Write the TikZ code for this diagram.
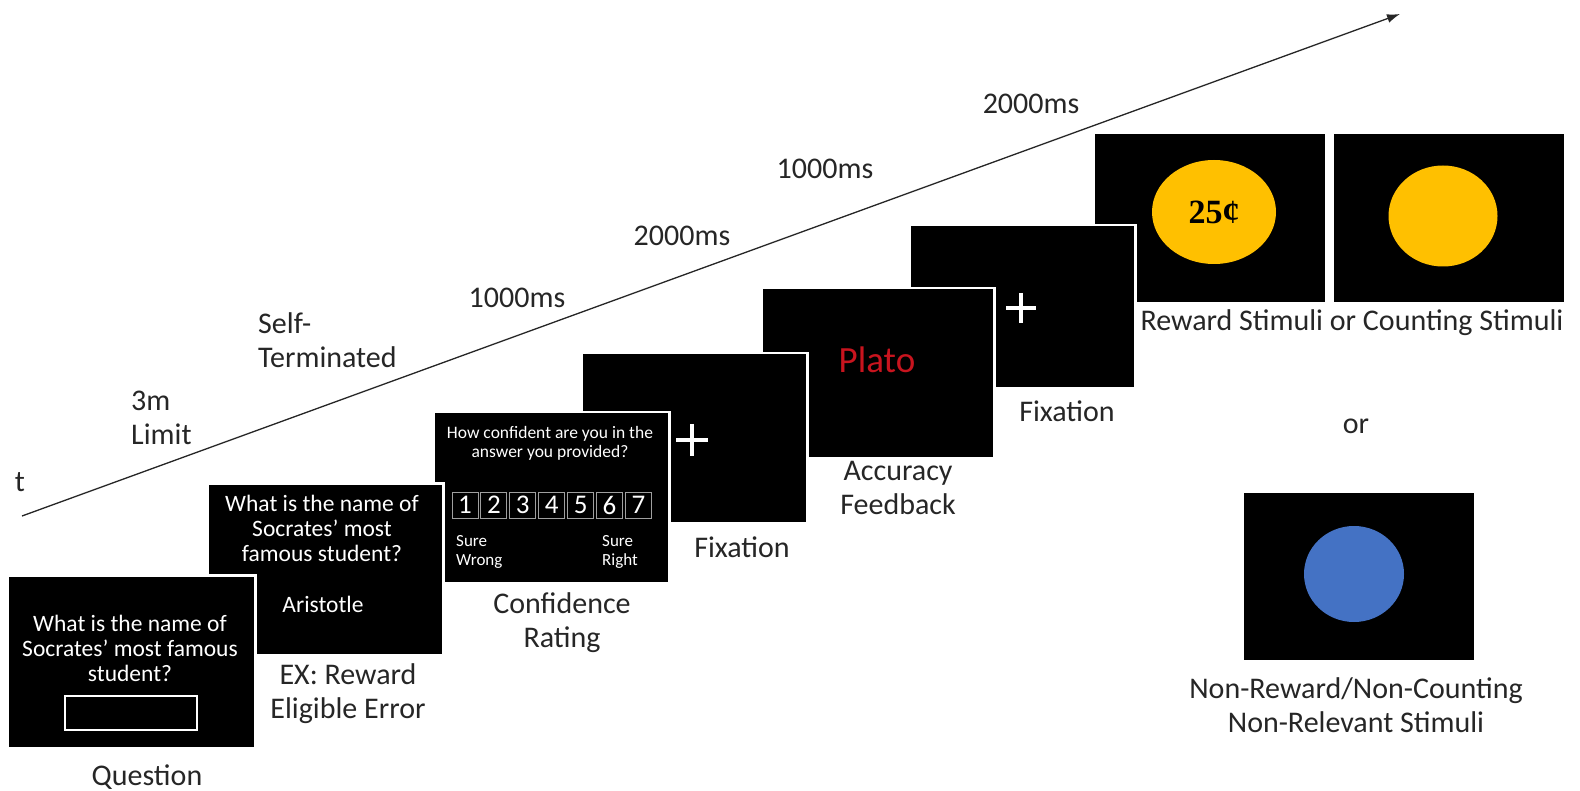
\documentclass[tikz,border=0pt]{standalone}
\usepackage{fontspec}
\setmainfont{Carlito}
\newfontfamily\coinfont{Liberation Serif}
\usetikzlibrary{arrows.meta,positioning,shapes.geometric}
\definecolor{coinGold}{HTML}{FFC000}
\definecolor{nonBlue}{HTML}{4472C4}
\definecolor{wrongRed}{HTML}{C8141E}
\definecolor{labelGrey}{HTML}{262626}
\tikzset{
  screen/.style={draw=white, line width=2.5pt, fill=black, anchor=north west,
    inner sep=0pt},
  lab/.style={text=labelGrey, align=center, inner sep=0pt,
    font=\fontsize{30}{34}\selectfont},
  scrtext/.style={text=white, align=center, inner sep=0pt,
    font=\fontsize{23.5}{25}\selectfont},
  smalltext/.style={text=white, align=left, inner sep=0pt, anchor=west,
    font=\fontsize{17}{19}\selectfont},
  numbox/.style={draw=gray!75, line width=1pt, text=white, inner sep=0pt,
    minimum width=26pt, minimum height=26pt, font=\fontsize{27}{27}\selectfont},
  crossline/.style={white, line width=4pt},
  disc/.style={ellipse, inner sep=0pt},
  axis/.style={-{Latex[length=13pt, width=9pt]}, line width=1.3pt, draw=black!85}
}
\begin{document}
\begin{tikzpicture}[x=1pt,y=-1pt]
    \useasboundingbox[fill=white] (0,0) rectangle (1580,791);
    % time axis
    \coordinate (tstart) at (22,516);
    \coordinate (tend) at (1400,14);
    \draw[axis] (tstart) -- (tend);
    \node[lab] (tlab) at (20,482) {t};
    \node[lab, align=left, anchor=west] (limit) at (131,418) {3m\\Limit};
    \node[lab, align=left, anchor=west] (selfterm) at (258,340) {Self-\\Terminated};
    \node[lab] (dur1) at (517,298) {1000ms};
    \node[lab] (dur2) at (682,236) {2000ms};
    \node[lab] (dur3) at (825,169) {1000ms};
    \node[lab] (dur4) at (1031,104) {2000ms};

    % screens, back to front
    \node[screen, minimum width=233pt, minimum height=170pt] (nonrel) at (1241,490) {};
    \node[disc, fill=nonBlue, minimum width=100pt, minimum height=96pt] (bluedisc) at (1354,574) {};
    \node[screen, minimum width=233pt, minimum height=170pt] (count) at (1331,132) {};
    \node[disc, fill=coinGold, minimum width=109pt, minimum height=101pt] (golddisc) at (1443,216) {};
    \node[screen, minimum width=233pt, minimum height=170pt] (reward) at (1092,132) {};
    \node[disc, fill=coinGold, minimum width=124pt, minimum height=104pt,
      font=\coinfont\bfseries\fontsize{34}{34}\selectfont] (coin) at (1214,212) {25¢};
    \node[screen, minimum width=226pt, minimum height=163pt] (fixtwo) at (908,224) {};
    \coordinate (crosstwo) at (1021,308);
    \draw[crossline] (crosstwo) +(-15,0) -- +(15,0) +(0,-15) -- +(0,15);
    \node[screen, minimum width=233pt, minimum height=170pt] (acc) at (760,287) {};
    \node[text=wrongRed, inner sep=0pt, font=\fontsize{37}{37}\selectfont] (plato) at (877,360) {Plato};
    \node[screen, minimum width=226pt, minimum height=170pt] (fixone) at (580,352) {};
    \coordinate (crossone) at (692,440);
    \draw[crossline] (crossone) +(-16,0) -- +(16,0) +(0,-16) -- +(0,16);
    \node[screen, minimum width=236pt, minimum height=171pt] (conf) at (432,411) {};
    \node[scrtext, font=\fontsize{17.5}{19}\selectfont] (confq) at (550,443)
      {How confident are you in the\\answer you provided?};
    \foreach \n in {1,...,7}
      \node[numbox] (box\n) at ({465+(\n-1)*28.9},505) {\n};
    \node[smalltext] (surewrong) at (456,552) {Sure\\Wrong};
    \node[smalltext] (sureright) at (602,552) {Sure\\Right};
    \node[screen, minimum width=236pt, minimum height=172pt] (err) at (206,482) {};
    \node[scrtext] (errq) at (322,528) {What is the name of\\Socrates’ most\\famous student?};
    \node[scrtext] (answer) at (323,604) {Aristotle};
    \node[screen, minimum width=248pt, minimum height=173pt] (question) at (6,574) {};
    \node[scrtext] (qq) at (130,648) {What is the name of\\Socrates’ most famous\\student?};
    \node[draw=white, line width=1.5pt, minimum width=132pt, minimum height=34pt,
      inner sep=0pt] (answerbox) at (131,713) {};

    % captions
    \node[lab] (qlab) at (147,777) {Question};
    \node[lab] (errlab) at (348,694) {EX: Reward\\Eligible Error};
    \node[lab] (conflab) at (562,623) {Confidence\\Rating};
    \node[lab] (fixonelab) at (742,547) {Fixation};
    \node[lab] (acclab) at (898,488) {Accuracy\\Feedback};
    \node[lab] (fixtwolab) at (1067,411) {Fixation};
    \node[lab] (rewlab) at (1352,323) {Reward Stimuli or Counting Stimuli};
    \node[lab] (orlab) at (1356,426) {or};
    \node[lab] (nonlab) at (1356,705) {Non-Reward/Non-Counting\\Non-Relevant Stimuli};
  \end{tikzpicture}
\end{document}
